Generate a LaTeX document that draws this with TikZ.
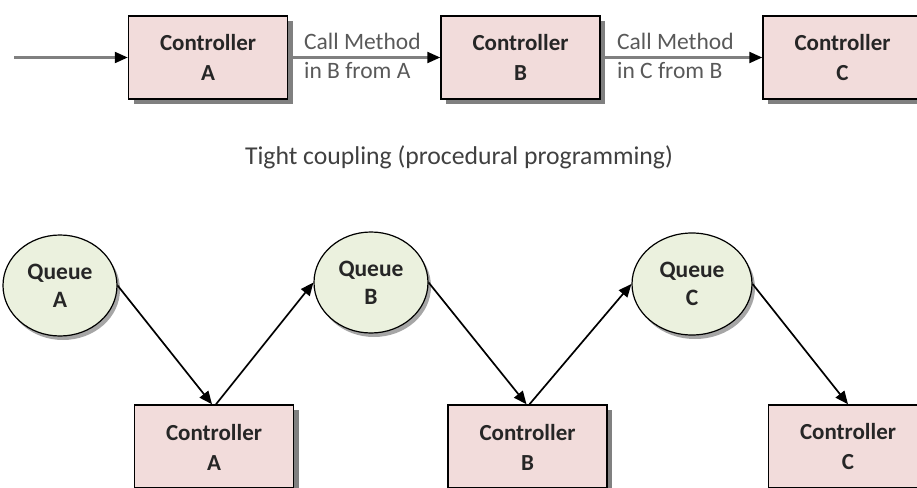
\documentclass[tikz,border=0pt]{standalone}
\usepackage{fontspec}
\setmainfont{Carlito}
\usetikzlibrary{arrows.meta,shapes.geometric,shadows}
\definecolor{boxpink}{HTML}{F2DCDB}
\definecolor{qgreen}{HTML}{EBF1DE}
\definecolor{labgray}{HTML}{595959}
\definecolor{titlegray}{HTML}{404040}
\definecolor{txtdark}{HTML}{262626}
\tikzset{
  ctrl/.style={draw=black, line width=1.5pt, fill=boxpink, minimum width=159pt, minimum height=83pt,
    inner sep=0pt, align=center, font=\fontsize{23}{30}\selectfont\bfseries, text=txtdark,
    drop shadow={shadow xshift=5pt, shadow yshift=-5pt, fill=gray, opacity=1}},
  ctrltxt/.style={font=\fontsize{23}{30}\selectfont\bfseries, text=txtdark, align=center},
  queue/.style={ellipse, draw=black, line width=1.2pt, fill=qgreen, minimum width=114pt, minimum height=101pt,
    inner sep=0pt, align=center, font=\fontsize{23.5}{28}\selectfont\bfseries, text=txtdark,
    drop shadow={shadow xshift=3pt, shadow yshift=-4pt, fill=gray, opacity=0.7}},
  arr/.style={line width=1.7pt, -{Triangle[length=13pt,width=11pt]}},
  toparr/.style={draw=gray, line width=2.2pt, -{Triangle[length=13pt,width=11pt,fill=black,color=black]}},
  lab/.style={font=\fontsize{23.5}{26}\selectfont, text=labgray, inner sep=0pt, anchor=base west},
}
\begin{document}
\begin{tikzpicture}[x=1pt,y=-1pt]
\useasboundingbox (0,0) rectangle (917,487);
\clip (0,0) rectangle (917,487);
% top row
\node[ctrl] (ta) at (208,57.5) {Controller\\A};
\node[ctrl] (tb) at (520.5,57.5) {Controller\\B};
\node[ctrl] (tc) at (842.5,57.5) {Controller\\C};
\coordinate (in) at (14,57.5);
\draw[toparr] (in) -- (ta.west);
\draw[toparr] (ta.east) -- (tb.west);
\draw[toparr] (tb.east) -- (tc.west);
\node[lab] (l1) at (304,49) {Call Method};
\node[lab] (l2) at (304,78) {in B from A};
\node[lab] (l3) at (617,49) {Call Method};
\node[lab] (l4) at (617,78) {in C from B};
% title
\node[font=\fontsize{25.7}{28}\selectfont, text=titlegray] (title) at (459,157) {Tight coupling (procedural programming)};
% bottom row
\node[queue] (qa) at (60,285.5) {Queue\\A};
\node[queue] (qb) at (371,282.5) {Queue\\B};
\node[queue, minimum width=120pt, minimum height=102pt] (qc) at (692,284) {Queue\\C};
\node[ctrl] (ca) at (214,446.5) {};
\node[ctrl] (cb) at (527.5,446.5) {};
\node[ctrl] (cc) at (848,446.5) {};
\node[ctrltxt] (cat) at (214,447) {Controller\\A};
\node[ctrltxt] (cbt) at (527.5,447) {Controller\\B};
\node[ctrltxt] (cct) at (848,447) {Controller\\C};
\draw[arr] (qa.east) -- ([xshift=-2pt]ca.north);
\draw[arr] ([xshift=2pt]ca.north) -- (qb.west);
\draw[arr] (qb.east) -- ([xshift=-1pt]cb.north);
\draw[arr] ([xshift=2pt]cb.north) -- (qc.west);
\draw[arr] (qc.east) -- (cc.north);
\end{tikzpicture}
\end{document}
